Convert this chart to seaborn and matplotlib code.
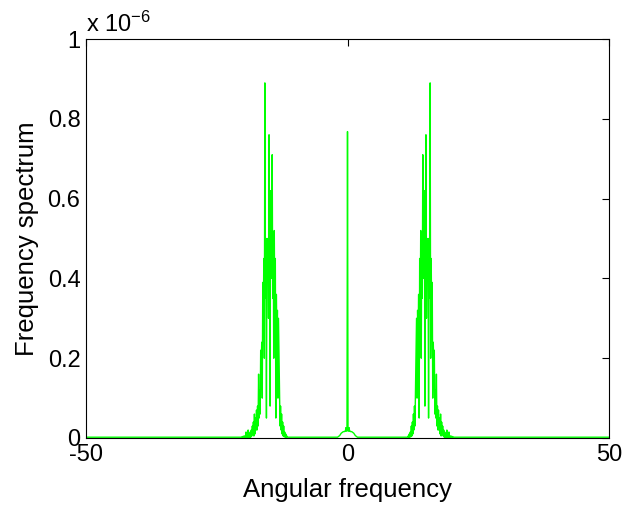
import numpy as np
import matplotlib
matplotlib.use("Agg")
import matplotlib.pyplot as plt
import seaborn as sns
import pandas as pd

# ---- data (spectrum values in units of 1e-6) ----
left_freq = np.round(np.arange(-20.5, -11.45, 0.1), 1)
left_vals = [0.002,
             0.002, 0.002, 0.003, 0.002, 0.004, 0.002, 0.005, 0.002, 0.005, 0.002,
             0.015, 0.002, 0.01, 0.002, 0.02, 0.002, 0.01, 0.002, 0.015, 0.002,
             0.02, 0.005, 0.03, 0.01, 0.04, 0.005, 0.06, 0.01, 0.05, 0.02,
             0.07, 0.02, 0.08, 0.03, 0.16, 0.05, 0.12, 0.06, 0.22, 0.18,
             0.24, 0.10, 0.39, 0.30, 0.45, 0.20, 0.89, 0.35, 0.50, 0.05,
             0.50, 0.40, 0.50, 0.30, 0.76, 0.50, 0.08, 0.62, 0.52, 0.40,
             0.71, 0.35, 0.50, 0.20, 0.52, 0.30, 0.45, 0.05, 0.36, 0.25,
             0.32, 0.10, 0.30, 0.20, 0.12, 0.03, 0.08, 0.02, 0.06, 0.01,
             0.04, 0.005, 0.03, 0.003, 0.015, 0.002, 0.01, 0.002, 0.005, 0.002]

center_freq = np.round(np.arange(-2.0, 2.05, 0.1), 1)
center_vals = [0.002, 0.002, 0.003, 0.004, 0.005, 0.006, 0.008, 0.010, 0.012, 0.013,
               0.014, 0.015, 0.016, 0.016, 0.016, 0.017, 0.017, 0.026, 0.017, 0.018,
               0.768,
               0.018, 0.017, 0.026, 0.017, 0.017, 0.016, 0.016, 0.016, 0.015, 0.014,
               0.013, 0.012, 0.010, 0.008, 0.006, 0.005, 0.004, 0.003, 0.002, 0.002]

right_freq = np.round(np.arange(11.5, 20.55, 0.1), 1)
right_vals = [0.002, 0.005, 0.002, 0.01, 0.002, 0.015, 0.003, 0.03, 0.005, 0.04,
              0.01, 0.06, 0.02, 0.08, 0.03, 0.12, 0.20, 0.30, 0.10, 0.32,
              0.25, 0.36, 0.05, 0.45, 0.30, 0.52, 0.20, 0.50, 0.35, 0.71,
              0.40, 0.52, 0.62, 0.08, 0.50, 0.76, 0.30, 0.50, 0.40, 0.50,
              0.05, 0.50, 0.35, 0.89, 0.20, 0.45, 0.30, 0.39, 0.10, 0.24,
              0.18, 0.22, 0.06, 0.12, 0.05, 0.16, 0.03, 0.08, 0.02, 0.07,
              0.02, 0.05, 0.01, 0.06, 0.005, 0.04, 0.01, 0.03, 0.005, 0.02,
              0.002, 0.015, 0.002, 0.01, 0.002, 0.02, 0.002, 0.01, 0.002, 0.015,
              0.002, 0.005, 0.002, 0.005, 0.002, 0.004, 0.002, 0.003, 0.002, 0.002,
              0.002]

edge_freq = [-50.0, 50.0]
edge_vals = [0.002, 0.002]

x_ticks = [-50, 0, 50]
x_ticklabels = ["-50", "0", "50"]
y_ticks = [0, 0.2, 0.4, 0.6, 0.8, 1.0]
y_ticklabels = ["0", "0.2", "0.4", "0.6", "0.8", "1"]

freq = np.concatenate([[edge_freq[0]], left_freq, center_freq, right_freq, [edge_freq[1]]])
vals = np.concatenate([[edge_vals[0]], left_vals, center_vals, right_vals, [edge_vals[1]]])
df = pd.DataFrame({"freq": freq, "spec": vals})

# ---- plot ----
sns.set_style("white")
plt.rcParams["font.family"] = ["Liberation Sans", "DejaVu Sans"]
plt.rcParams["mathtext.fontset"] = "custom"
plt.rcParams["mathtext.rm"] = "Liberation Sans"
plt.rcParams["mathtext.it"] = "Liberation Sans"
plt.rcParams["text.color"] = "black"
plt.rcParams["axes.labelcolor"] = "black"
plt.rcParams["xtick.color"] = "black"
plt.rcParams["ytick.color"] = "black"

fig = plt.figure(figsize=(6.22, 5.05), dpi=100)
ax = fig.add_axes([86/622, 67/505, (609-86)/622, (438-39)/505])

sns.lineplot(data=df, x="freq", y="spec", ax=ax, color=(0, 1, 0),
             linewidth=1.0, estimator=None, sort=False, legend=False)

ax.set_xlim(-50, 50)
ax.set_ylim(0, 1)
ax.set_xticks(x_ticks)
ax.set_xticklabels(x_ticklabels)
ax.set_yticks(y_ticks)
ax.set_yticklabels(y_ticklabels)
ax.tick_params(direction="in", length=5, width=0.8, colors="black",
               labelcolor="black", labelsize=17, top=True, right=True, pad=4)
for s in ax.spines.values():
    s.set_visible(True)
    s.set_color("black")
    s.set_linewidth(0.8)

ax.set_xlabel("Angular frequency", fontsize=18.5, labelpad=9, color="black")
ax.set_ylabel("Frequency spectrum", fontsize=18.5, labelpad=6, color="black")

ax.text(0.0, 1.018, r"x 10$^{-6}$", transform=ax.transAxes, fontsize=17,
        ha="left", va="baseline", color="black")

fig.savefig("out.png", dpi=100, facecolor="white")
